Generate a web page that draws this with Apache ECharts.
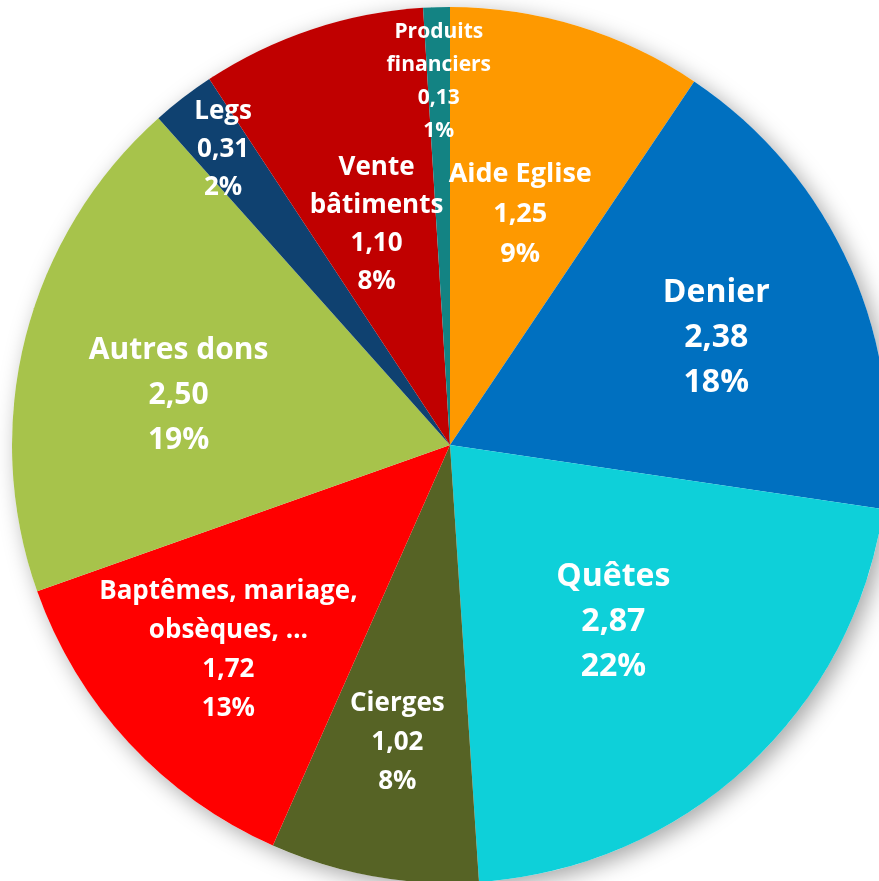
<!DOCTYPE html>
<html>
<head>
<meta charset="utf-8">
<script src="https://cdn.jsdelivr.net/npm/echarts@6/dist/echarts.min.js"></script>
<style>
    html, body { margin: 0; padding: 0; background: #fff; }
    #chart { width: 879px; height: 881px; }
</style>
</head>
<body>
<div id="chart"></div>
<script>
    // données (en k€) – ordre horaire depuis midi
    const categories = [
        'Aide Eglise',
        'Denier',
        'Quêtes',
        'Cierges',
        'Baptêmes, mariage,\nobsèques, …',
        'Autres dons',
        'Legs',
        'Vente\nbâtiments',
        'Produits\nfinanciers'
    ];
    const values = [1.25, 2.38, 2.87, 1.02, 1.72, 2.50, 0.31, 1.10, 0.13];

    const colors = ['#fe9900', '#0070c0', '#0ed0d9', '#566325', '#ff0000', '#a7c34b', '#0f4170', '#c00000', '#138383'];
    // taille des étiquettes, distance au centre (fraction du rayon) et décalage angulaire (degrés)
    const fontSizes = [27, 32, 32, 26, 26, 30, 26, 26, 21];
    const lineHeights = [40, 45, 45, 39, 39, 45, 38, 38, 33];
    const labelRadius = [0.55, 0.655, 0.55, 0.69, 0.69, 0.63, 0.85, 0.53, 0.83];
    const labelShift = [0, 2, 0, 0, 0, -4, 0, 0, 0];

    const center = [450, 445];
    const radius = 438;
    const total = values.reduce((a, b) => a + b, 0);

    const myChart = echarts.init(document.getElementById('chart'));

    const option = {
        animation: false,
        series: [{
            // fond avec ombre
            type: 'pie',
            silent: true,
            center: center,
            radius: radius,
            label: { show: false },
            itemStyle: {
                color: '#ffffff',
                shadowBlur: 22,
                shadowColor: 'rgba(0,0,0,0.35)',
                shadowOffsetX: 6,
                shadowOffsetY: 6
            },
            data: [1]
        }, {
            type: 'pie',
            center: center,
            radius: radius,
            startAngle: 90,
            clockwise: true,
            avoidLabelOverlap: false,
            itemStyle: { borderWidth: 0 },
            label: {
                show: true,
                position: 'inside',
                color: '#ffffff',
                fontFamily: 'Open Sans',
                fontWeight: 'bold',
                align: 'center',
                formatter: (p) => {
                    const pct = Math.round(p.value / total * 100);
                    return p.name + '\n' + p.value.toFixed(2).replace('.', ',') + '\n' + pct + '%';
                }
            },
            labelLayout: (params) => {
                const i = params.dataIndex;
                let before = 0;
                for (let k = 0; k < i; k++) before += values[k];
                const mid = (before + values[i] / 2) / total * 2 * Math.PI + labelShift[i] * Math.PI / 180;
                const r = radius * labelRadius[i];
                return {
                    x: center[0] + r * Math.sin(mid),
                    y: center[1] - r * Math.cos(mid)
                };
            },
            data: categories.map((name, i) => ({
                name: name,
                value: values[i],
                itemStyle: { color: colors[i] },
                label: { fontSize: fontSizes[i], lineHeight: lineHeights[i] }
            }))
        }]
    };

    myChart.setOption(option);
</script>
</body>
</html>
